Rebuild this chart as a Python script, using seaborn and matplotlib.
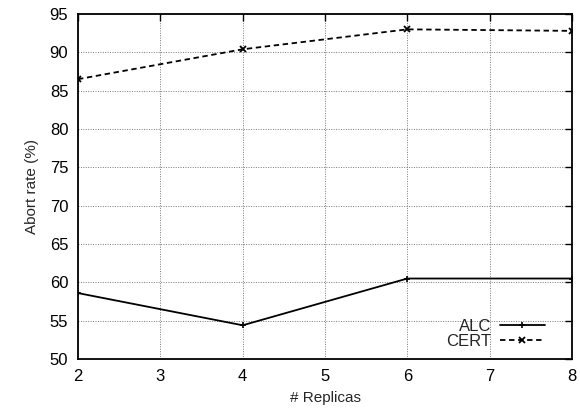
import matplotlib
matplotlib.use("Agg")
import matplotlib.pyplot as plt
import seaborn as sns
import pandas as pd

replicas = [2, 4, 6, 8]
alc = [58.6, 54.4, 60.5, 60.5]
cert = [86.5, 90.4, 93.0, 92.8]

sns.set_theme(style="white")
plt.rcParams['font.family'] = ['Liberation Sans', 'DejaVu Sans']

df = pd.concat([
    pd.DataFrame({"x": replicas, "y": alc, "s": "ALC"}),
    pd.DataFrame({"x": replicas, "y": cert, "s": "CERT"}),
])

fig = plt.figure(figsize=(5.8, 4.12), dpi=100)
ax = fig.add_axes([0.1345, 0.1286, 0.8517, 0.8374])

sns.lineplot(data=df[df.s == "ALC"], x="x", y="y", ax=ax, color="black",
             lw=1.3, marker="+", markersize=5, mew=1.2,
             markeredgecolor="black", markerfacecolor="black", label="ALC")
sns.lineplot(data=df[df.s == "CERT"], x="x", y="y", ax=ax, color="black",
             lw=1.3, ls=(0, (3, 2)), marker="x", markersize=4, mew=1.3,
             markeredgecolor="black", markerfacecolor="black", label="CERT")

ax.set_xlim(2, 8)
ax.set_ylim(50, 95)
ax.set_xticks(range(2, 9))
ax.set_yticks(range(50, 96, 5))
ax.grid(True, color="#777777", ls=(0, (1, 1.5)), lw=0.7)
for s in ax.spines.values():
    s.set_color("black")
    s.set_linewidth(1.3)
ax.tick_params(direction="in", top=True, right=True, length=5, width=1,
               labelsize=12, colors="black", pad=7)
ax.set_xlabel("# Replicas", fontsize=11, labelpad=5)
ax.set_ylabel("Abort rate (%)", fontsize=11, labelpad=8)
leg = ax.legend(loc="lower right", frameon=False, markerfirst=False,
                fontsize=12, handlelength=2.7, borderaxespad=0.2,
                labelspacing=0.0, handletextpad=0.5,
                bbox_to_anchor=(0.965, 0.0))
fig.savefig("out.png", dpi=100)
